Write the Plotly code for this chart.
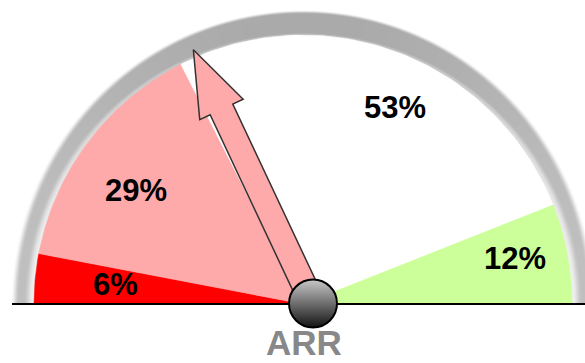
import base64
import struct
import zlib

import numpy as np
import plotly.graph_objects as go

# ---- data -------------------------------------------------------------
segment_labels = ["6%", "29%", "53%", "12%"]
segment_values = [6, 29, 53, 12]
segment_colors = ["#ff0000", "#ffaaaa", "#ffffff", "#ccff99"]
needle_value = 36
gauge_title = "ARR"

# ---- geometry ---------------------------------------------------------
W, H = 585, 363
CX, CY = 303, 304          # centre of the coloured arc
R_FILL = 269               # radius of the coloured wedges
HUB_X, HUB_Y = 313, 304    # needle pivot / knob
LABEL_R = 206
# small hand nudges (px) so each label sits nicely inside its wedge
LABEL_NUDGE = [(8, 0), (-12, 10), (9, -4), (0, -7)]
NEEDLE_LEN = 281
HEAD_LEN = 66
HEAD_HALF = 24
SHAFT_HALF = 12.5


def value_to_angle(v):
    """0 % sits at the left end of the dial, 100 % at the right end."""
    return np.radians(180.0 - 1.8 * v)


def polar(cx, cy, r, a):
    return cx + r * np.cos(a), cy - r * np.sin(a)


def png_data_uri(rgb):
    h, w, _ = rgb.shape
    raw = b"".join(b"\x00" + rgb[j].tobytes() for j in range(h))

    def chunk(tag, data):
        c = struct.pack(">I", len(data)) + tag + data
        return c + struct.pack(">I", zlib.crc32(tag + data) & 0xFFFFFFFF)

    png = (b"\x89PNG\r\n\x1a\n"
           + chunk(b"IHDR", struct.pack(">IIBBBBB", w, h, 8, 2, 0, 0, 0))
           + chunk(b"IDAT", zlib.compress(raw, 9))
           + chunk(b"IEND", b""))
    return "data:image/png;base64," + base64.b64encode(png).decode()


def smooth(t):
    t = np.clip(t, 0.0, 1.0)
    return t * t * (3 - 2 * t)


# ---- shaded grey bezel behind the dial --------------------------------
rim_h = CY + 1
ys, xs = np.mgrid[0:rim_h, 0:W].astype(float) + 0.5
ddx = xs - CX
ddy = CY - ys
rr = np.hypot(ddx, ddy) + 1e-9
side = (ddx / rr) ** 2                       # 0 at the top, 1 at the ends
core = 170 + 22 * side
edge = 186 + 54 * side
inner_w = 1 + 8 * side
grey = edge + (core - edge) * smooth((rr - 270) / inner_w)
r_out = 292 - 4 * side
fade_w = 4 + 4 * side
alpha = 1 - smooth((rr - r_out) / fade_w + 0.5)
alpha[rr < 262] = 0
val = 255 - (255 - grey) * alpha
rim_rgb = np.repeat(np.clip(val, 0, 255).astype(np.uint8)[:, :, None], 3, axis=2)

fig = go.Figure()
fig.add_trace(go.Image(source=png_data_uri(rim_rgb), x0=0.5, y0=0.5,
                       dx=1, dy=1, hoverinfo="skip"))

# ---- coloured wedges --------------------------------------------------
cum = np.concatenate([[0], np.cumsum(segment_values)])
for i, col in enumerate(segment_colors):
    a = np.linspace(value_to_angle(cum[i]), value_to_angle(cum[i + 1]), 80)
    ax, ay = polar(CX, CY, R_FILL, a)
    fig.add_trace(go.Scatter(
        x=np.concatenate([[CX], ax, [CX]]),
        y=np.concatenate([[CY], ay, [CY]]),
        mode="lines", fill="toself", fillcolor=col,
        line=dict(color=col, width=0.5), hoverinfo="skip"))

# ---- needle -----------------------------------------------------------
na = value_to_angle(needle_value)
ux, uy = np.cos(na), -np.sin(na)       # along the needle (screen coords)
px, py = -uy, ux                        # perpendicular
base = NEEDLE_LEN - HEAD_LEN
along = [0, base, base, NEEDLE_LEN, base, base, 0, 0]
across = [-SHAFT_HALF, -SHAFT_HALF, -HEAD_HALF, 0, HEAD_HALF, SHAFT_HALF,
          SHAFT_HALF, -SHAFT_HALF]
nx = [HUB_X + a * ux + c * px for a, c in zip(along, across)]
ny = [HUB_Y + a * uy + c * py for a, c in zip(along, across)]
fig.add_trace(go.Scatter(x=nx, y=ny, mode="lines", fill="toself",
                         fillcolor="#ffaaaa",
                         line=dict(color="#333333", width=1.5),
                         hoverinfo="skip"))

# ---- baseline ---------------------------------------------------------
fig.add_trace(go.Scatter(x=[12, W], y=[CY, CY], mode="lines",
                         line=dict(color="#000000", width=2),
                         hoverinfo="skip"))

# ---- hub knob ---------------------------------------------------------
fig.add_trace(go.Scatter(
    x=[HUB_X], y=[HUB_Y - 0.5], mode="markers", hoverinfo="skip",
    marker=dict(size=48, color="#c8c8c8",
                gradient=dict(type="vertical", color="#141414"),
                line=dict(color="#000000", width=2))))

# ---- percentage labels --------------------------------------------------
for i, lab in enumerate(segment_labels):
    mid = value_to_angle((cum[i] + cum[i + 1]) / 2)
    lx, ly = polar(HUB_X, HUB_Y, LABEL_R, mid)
    nxo, nyo = LABEL_NUDGE[i]
    fig.add_annotation(x=lx + nxo, y=ly + nyo, text=lab, showarrow=False,
                       xanchor="center", yanchor="middle",
                       font=dict(family="Liberation Sans, Arial", size=31,
                                 color="#000000", weight="bold"))

fig.add_annotation(x=HUB_X - 9, y=H, text=gauge_title, showarrow=False,
                   xanchor="center", yanchor="bottom", borderpad=0,
                   font=dict(family="Liberation Sans, Arial", size=35,
                             color="#888888", weight="bold"))

fig.update_layout(
    width=W, height=H, margin=dict(l=0, r=0, t=0, b=0),
    paper_bgcolor="#ffffff", plot_bgcolor="#ffffff",
    showlegend=False, hovermode=False,
    xaxis=dict(range=[0, W], visible=False, fixedrange=True),
    yaxis=dict(range=[H, 0], visible=False, fixedrange=True),
)

fig.write_html("out.html")
